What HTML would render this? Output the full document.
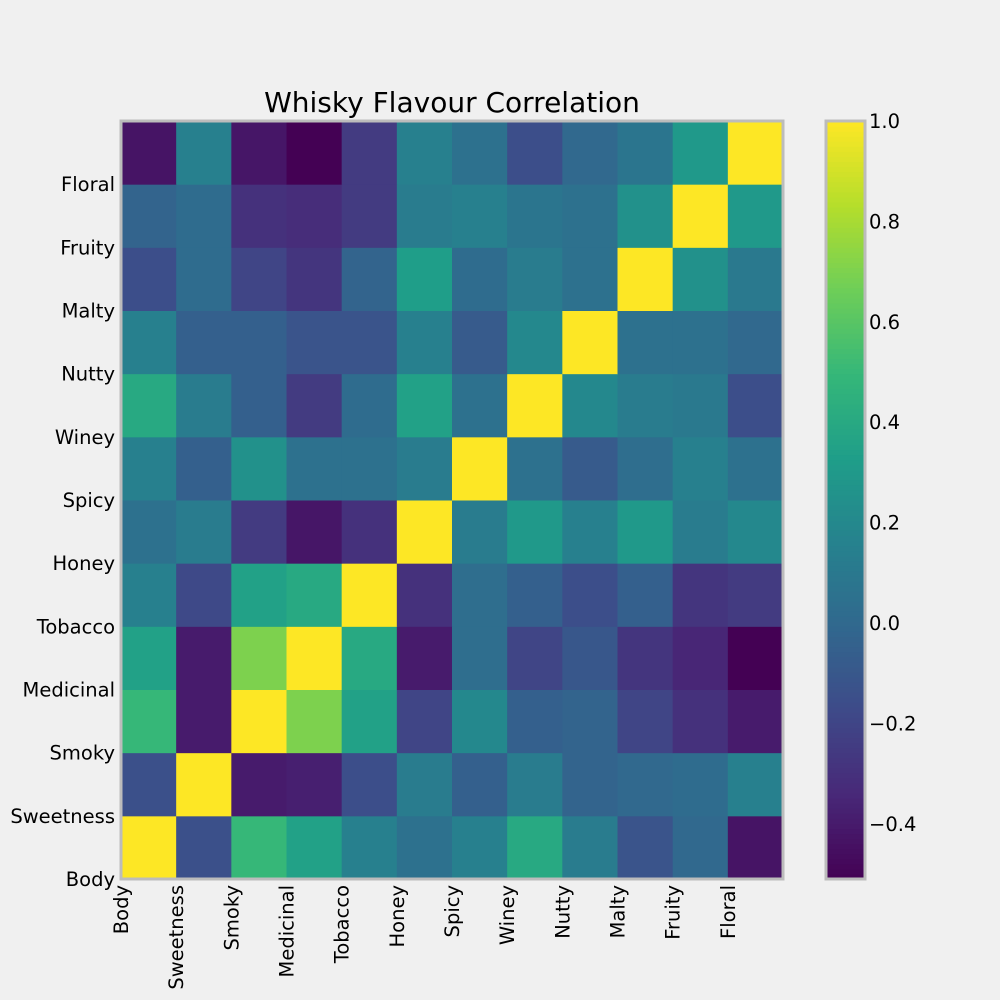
<!DOCTYPE html>
<html><head><meta charset="utf-8"><style>
body{margin:0;background:#f0f0f0;}
svg{display:block;font-family:"DejaVu Sans","Liberation Sans",sans-serif;}
</style></head><body>
<svg id="chart" width="1000" height="1000" viewBox="0 0 1000 1000">
<rect width="1000" height="1000" fill="#f0f0f0"/>
<text x="452" y="112" font-size="28" text-anchor="middle" fill="#000">Whisky Flavour Correlation</text>
<g id="cells"></g>
<g id="ylab"></g>
<g id="xlab"></g>
<rect x="121" y="121" width="662" height="758" fill="none" stroke="#bcbcbc" stroke-width="3"/>
<g id="cbar"></g>
</svg>
<script>
const labels=["Body","Sweetness","Smoky","Medicinal","Tobacco","Honey","Spicy","Winey","Nutty","Malty","Fruity","Floral"];
// rows from Body (bottom) to Floral (top); columns Body..Floral
const rowBody=[1,-0.14,0.5,0.35,0.15,0.05,0.15,0.4,0.12,-0.12,0.0,-0.43];
const rowSweetness=[-0.14,1,-0.4,-0.38,-0.15,0.12,-0.05,0.12,-0.03,0.0,0.02,0.15];
const rowSmoky=[0.5,-0.4,1,0.7,0.35,-0.2,0.2,-0.05,-0.03,-0.2,-0.3,-0.4];
const rowMedicinal=[0.35,-0.4,0.7,1,0.4,-0.4,0.03,-0.2,-0.1,-0.28,-0.35,-0.51];
const rowTobacco=[0.15,-0.18,0.35,0.4,1,-0.3,0.03,-0.05,-0.15,-0.05,-0.28,-0.25];
const rowHoney=[0.05,0.12,-0.25,-0.42,-0.3,1,0.12,0.3,0.15,0.3,0.12,0.2];
const rowSpicy=[0.15,-0.05,0.25,0.05,0.05,0.12,1,0.05,-0.08,0.03,0.15,0.05];
const rowWiney=[0.4,0.12,-0.05,-0.25,0.02,0.35,0.05,1,0.2,0.12,0.1,-0.15];
const rowNutty=[0.15,-0.05,-0.05,-0.12,-0.12,0.15,-0.08,0.2,1,0.05,0.05,0.0];
const rowMalty=[-0.15,0.02,-0.2,-0.28,-0.03,0.33,0.02,0.12,0.05,1,0.25,0.1];
const rowFruity=[-0.03,0.02,-0.3,-0.32,-0.25,0.12,0.15,0.08,0.05,0.25,1,0.3];
const rowFloral=[-0.43,0.15,-0.42,-0.51,-0.25,0.15,0.05,-0.15,0.0,0.08,0.3,1];
const matrix=[rowBody,rowSweetness,rowSmoky,rowMedicinal,rowTobacco,rowHoney,rowSpicy,rowWiney,rowNutty,rowMalty,rowFruity,rowFloral];
const cbTicks=[1.0,0.8,0.6,0.4,0.2,0.0,-0.2,-0.4];
const vmin=-0.51,vmax=1.0;
const NS="http://www.w3.org/2000/svg";
const X0=121,X1=783,Y0=121,Y1=879;
const n=labels.length,cw=(X1-X0)/n,ch=(Y1-Y0)/n;
const xs=i=>X0+i*cw, ys=j=>Y1-(j+1)*ch;
const vir=[[68,1,84],[72,40,120],[62,74,137],[49,104,142],[38,130,142],[31,158,137],[53,183,121],[110,206,88],[181,222,43],[253,231,37]];
function color(v){let t=Math.max(0,Math.min(1,(v-vmin)/(vmax-vmin)))*(vir.length-1);let i=Math.min(Math.floor(t),vir.length-2),f=t-i;
const c=vir[i].map((a,k)=>Math.round(a+(vir[i+1][k]-a)*f));return `rgb(${c})`;}
function mk(tag,attrs,parent){const e=document.createElementNS(NS,tag);for(const k in attrs)e.setAttribute(k,attrs[k]);parent.appendChild(e);return e;}
const cells=document.getElementById('cells');
matrix.forEach((row,j)=>row.forEach((v,i)=>{
 const r=mk('rect',{x:xs(i),y:ys(j),width:cw+0.5,height:ch+0.5,fill:color(v)},cells);
 
 
}));
const yl=document.getElementById('ylab'),xl=document.getElementById('xlab');
labels.forEach((l,j)=>{
 const t=mk('text',{x:115,y:Y1-j*ch+7,'font-size':19.5,'text-anchor':'end',fill:'#000'},yl);t.textContent=l;
 
 
 const x=xs(j)+7;
 const u=mk('text',{x:0,y:0,'font-size':19.5,'text-anchor':'end',fill:'#000',transform:`translate(${x},885) rotate(-90)`},xl);u.textContent=l;
 
 
});
const cb=document.getElementById('cbar');
const CX=826,CW=39;
const cy=v=>Y1-(v-vmin)/(vmax-vmin)*(Y1-Y0);
const steps=150;
for(let k=0;k<steps;k++){const v0=vmin+(vmax-vmin)*k/steps,v1=vmin+(vmax-vmin)*(k+1)/steps;
 const r=mk('rect',{x:CX,y:cy(v1),width:CW,height:cy(v0)-cy(v1)+0.6,fill:color((v0+v1)/2)},cb);
 
 }
const fr=mk('rect',{x:CX,y:Y0,width:CW,height:Y1-Y0,fill:'none',stroke:'#bcbcbc','stroke-width':3},cb);


cbTicks.forEach(v=>{
 const t=mk('text',{x:869,y:cy(v)+7,'font-size':19.5,fill:'#000'},cb);t.textContent=(v<0?'\u2212':'')+Math.abs(v).toFixed(1);
 
 
});
</script>
</body></html>
